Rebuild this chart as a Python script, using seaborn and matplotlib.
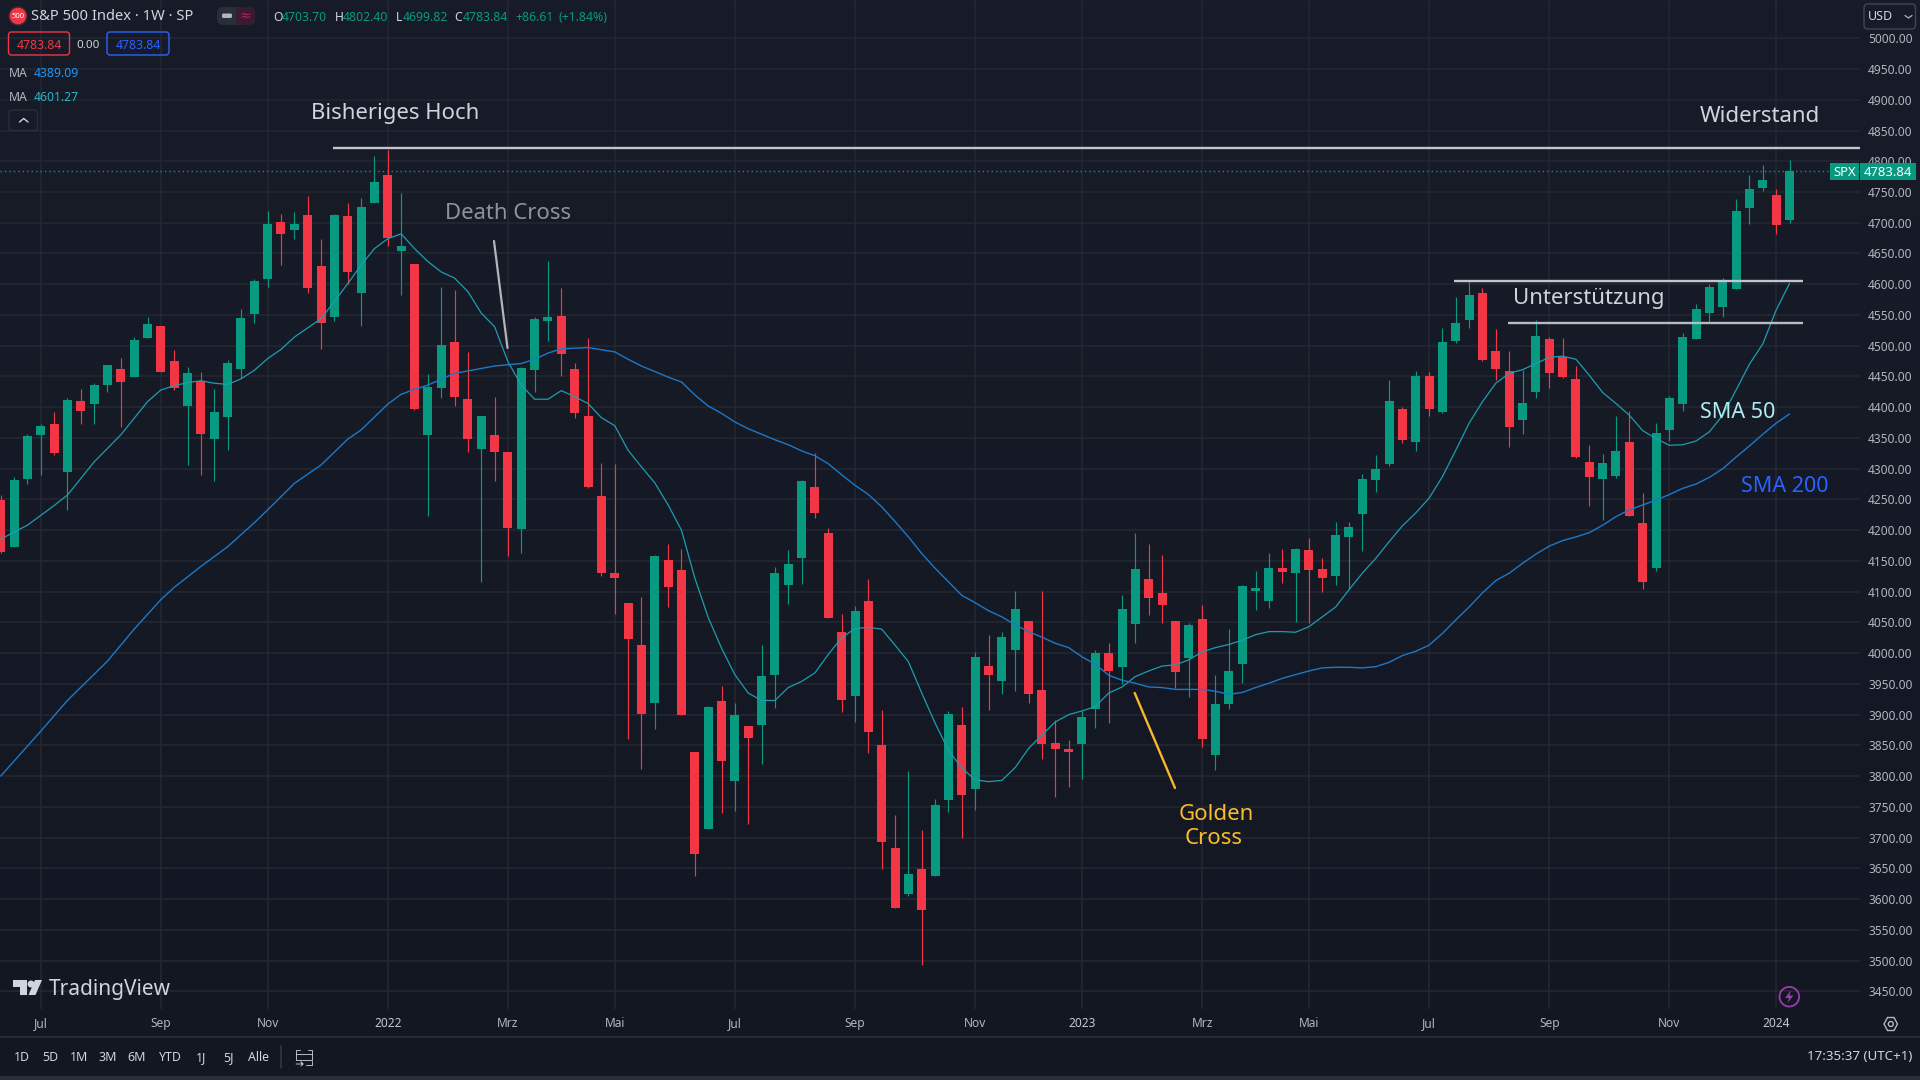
import numpy as np
import seaborn as sns
import matplotlib.pyplot as plt
from matplotlib.colors import LinearSegmentedColormap
from matplotlib.patches import Circle, FancyBboxPatch, Polygon, Rectangle

# weekly S&P 500 candles
opens = [4249, 4173, 4283, 4355, 4373, 4295, 4410, 4405, 4436, 4462, 4449, 4513, 4532, 4475, 4402,
         4443, 4348, 4384, 4462, 4552, 4609, 4701, 4688, 4713, 4630, 4547, 4711, 4586, 4732, 4778,
         4654, 4633, 4355, 4431, 4506, 4413, 4332, 4355, 4327, 4202, 4460, 4540, 4548, 4462, 4386,
         4256, 4130, 4082, 4013, 3919, 4151, 4135, 3839, 3714, 3922, 3792, 3881, 3883, 3964, 4111,
         4155, 4270, 4195, 4034, 3930, 4085, 3851, 3683, 3608, 3649, 3637, 3761, 3883, 3779, 3979,
         3955, 4005, 4052, 3940, 3854, 3844, 3852, 3909, 4000, 3977, 4047, 4120, 4098, 4052, 3992,
         4055, 3834, 3917, 3982, 4101, 4085, 4138, 4130, 4168, 4137, 4125, 4189, 4226, 4282, 4308,
         4397, 4343, 4451, 4392, 4508, 4542, 4586, 4491, 4459, 4379, 4425, 4511, 4482, 4446, 4311,
         4283, 4288, 4343, 4211, 4138, 4363, 4405, 4511, 4553, 4563, 4592, 4724, 4756, 4745, 4703.70]
highs = [4257, 4286, 4356, 4372, 4393, 4415, 4430, 4440, 4469, 4480, 4514, 4547, 4532, 4493, 4465,
         4457, 4430, 4477, 4560, 4609, 4719, 4714, 4717, 4743, 4674, 4714, 4732, 4740, 4809, 4818,
         4748, 4633, 4454, 4596, 4591, 4490, 4386, 4417, 4327, 4465, 4547, 4638, 4594, 4472, 4512,
         4309, 4308, 4082, 4091, 4159, 4177, 4169, 3839, 3914, 3946, 3919, 3881, 4013, 4140, 4167,
         4281, 4325, 4203, 4063, 4077, 4120, 3907, 3737, 3808, 3712, 3763, 3906, 3912, 4002, 4029,
         4034, 4101, 4052, 4101, 3891, 3859, 3906, 4005, 4016, 4094, 4195, 4177, 4160, 4052, 4049,
         4078, 3964, 4039, 4111, 4133, 4163, 4169, 4171, 4187, 4155, 4213, 4213, 4291, 4322, 4445,
         4400, 4459, 4457, 4529, 4579, 4607, 4594, 4527, 4491, 4460, 4542, 4514, 4512, 4467, 4338,
         4324, 4386, 4394, 4260, 4374, 4418, 4521, 4568, 4600, 4610, 4739, 4778, 4794, 4755, 4802.40]
lows = [4163, 4173, 4275, 4290, 4322, 4233, 4373, 4373, 4425, 4368, 4449, 4513, 4457, 4428, 4306,
        4290, 4280, 4330, 4447, 4537, 4596, 4631, 4674, 4586, 4495, 4540, 4600, 4532, 4732, 4662,
        4582, 4395, 4223, 4415, 4402, 4327, 4116, 4280, 4158, 4163, 4425, 4508, 4451, 4382, 4269,
        4125, 4064, 3860, 3811, 3877, 4075, 3899, 3637, 3714, 3740, 3743, 3722, 3820, 3911, 4080,
        4112, 4220, 4057, 3904, 3888, 3838, 3649, 3585, 3605, 3493, 3637, 3742, 3699, 3745, 3907,
        3933, 3938, 3919, 3828, 3766, 3782, 3795, 3878, 3886, 3950, 4016, 4062, 4049, 3943, 3929,
        3847, 3810, 3909, 3951, 4070, 4073, 4114, 4051, 4049, 4099, 4111, 4104, 4166, 4262, 4304,
        4342, 4329, 4386, 4390, 4504, 4529, 4475, 4444, 4335, 4356, 4415, 4431, 4447, 4317, 4239,
        4216, 4285, 4223, 4104, 4133, 4345, 4394, 4511, 4537, 4547, 4592, 4698, 4752, 4682, 4699.82]
closes = [4165, 4282, 4353, 4369, 4325, 4412, 4394, 4436, 4469, 4441, 4509, 4535, 4457, 4431, 4456,
          4356, 4392, 4472, 4545, 4605, 4698, 4682, 4698, 4594, 4537, 4713, 4620, 4726, 4766, 4675,
          4662, 4397, 4433, 4501, 4417, 4348, 4386, 4327, 4203, 4464, 4543, 4547, 4486, 4391, 4270,
          4130, 4122, 4023, 3901, 4158, 4107, 3899, 3673, 3912, 3824, 3899, 3862, 3963, 4130, 4145,
          4280, 4228, 4057, 3924, 4068, 3872, 3693, 3585, 3641, 3582, 3753, 3901, 3769, 3994, 3964,
          4026, 4072, 3933, 3852, 3844, 3839, 3896, 4000, 3971, 4072, 4137, 4090, 4078, 3969, 4046,
          3860, 3917, 3971, 4109, 4106, 4138, 4132, 4169, 4135, 4122, 4192, 4205, 4283, 4299, 4410,
          4347, 4451, 4397, 4506, 4537, 4582, 4477, 4462, 4368, 4407, 4516, 4456, 4449, 4319, 4286,
          4309, 4329, 4223, 4116, 4358, 4415, 4514, 4560, 4595, 4605, 4719, 4755, 4769, 4696, 4783.84]

# fast moving average, one value per candle
sma_fast = [4185, 4197, 4208, 4224, 4240, 4257, 4284, 4311, 4333, 4355, 4382, 4409, 4428, 4435, 4440,
            4443, 4439, 4437, 4446, 4460, 4479, 4494, 4514, 4529, 4544, 4572, 4601, 4631, 4658, 4674,
            4682, 4658, 4637, 4620, 4610, 4588, 4553, 4531, 4474, 4436, 4413, 4413, 4427, 4417, 4406,
            4383, 4370, 4330, 4303, 4277, 4241, 4200, 4122, 4058, 4008, 3965, 3935, 3923, 3923, 3944,
            3954, 3968, 3998, 4025, 4040, 4042, 4039, 4013, 3986, 3935, 3886, 3842, 3813, 3794, 3791,
            3793, 3814, 3845, 3867, 3888, 3900, 3906, 3913, 3935, 3945, 3962, 3971, 3979, 3981, 3989,
            4002, 4009, 4014, 4021, 4030, 4035, 4035, 4034, 4043, 4059, 4075, 4103, 4130, 4154, 4181,
            4207, 4228, 4252, 4287, 4330, 4374, 4409, 4439, 4455, 4461, 4471, 4481, 4483, 4478, 4452,
            4424, 4406, 4387, 4362, 4349, 4338, 4339, 4345, 4360, 4387, 4428, 4470, 4503, 4558, 4601.27]
# slow moving average, read at the candles listed
sma_slow_idx = [0, 3, 5, 8, 10, 12, 13, 15, 17, 19, 20, 22, 24, 26, 27, 29, 30, 31, 32, 34, 35, 37, 39,
                40, 41, 42, 44, 46, 47, 48, 49, 50, 51, 52, 53, 54, 55, 56, 57, 58, 59, 60, 61, 62, 63,
                64, 65, 66, 67, 68, 69, 70, 71, 72, 73, 74, 75, 76, 77, 78, 79, 80, 81, 82, 83, 84, 85,
                86, 87, 88, 89, 90, 91, 92, 93, 94, 95, 96, 97, 98, 99, 100, 101, 102, 103, 104, 105,
                106, 107, 108, 109, 110, 111, 112, 113, 114, 115, 116, 117, 118, 119, 120, 121, 122,
                123, 124, 125, 126, 127, 128, 129, 130, 131, 132, 133, 134]
sma_slow = [3800, 3873, 3923, 3987, 4039, 4087, 4107, 4141, 4173, 4212, 4233, 4276, 4306, 4348, 4363,
            4405, 4421, 4429, 4436, 4455, 4459, 4467, 4471, 4478, 4488, 4495, 4497, 4490, 4478, 4467,
            4458, 4449, 4441, 4420, 4402, 4390, 4376, 4365, 4356, 4347, 4339, 4329, 4321, 4308, 4290,
            4273, 4258, 4238, 4214, 4189, 4162, 4138, 4116, 4094, 4082, 4069, 4059, 4046, 4035, 4026,
            4016, 4009, 3994, 3982, 3964, 3956, 3951, 3945, 3944, 3941, 3941, 3941, 3938, 3933, 3936,
            3944, 3951, 3959, 3965, 3971, 3976, 3977, 3977, 3976, 3978, 3985, 3996, 4003, 4013, 4032,
            4054, 4075, 4098, 4118, 4130, 4146, 4161, 4174, 4183, 4189, 4196, 4208, 4222, 4233, 4241,
            4249, 4258, 4268, 4275, 4286, 4300, 4319, 4337, 4356, 4374, 4389.09]

month_idx = [3, 12, 20, 29, 38, 46, 55, 64, 73, 81, 90, 98, 107, 116, 125, 133]
month_labels = ["Jul", "Sep", "Nov", "2022", "Mrz", "Mai", "Jul", "Sep", "Nov", "2023", "Mrz", "Mai",
                "Jul", "Sep", "Nov", "2024"]
price_ticks = list(range(3450, 5001, 50))
last_price = 4783.84
resistance = 4821.6
support_high = 4606
support_low = 4537
range_buttons = ["1D", "5D", "1M", "3M", "6M", "YTD", "1J", "5J", "Alle"]

UP = "#089981"
DOWN = "#f23645"
GRID = "#242833"
SOFT = "#d1d4dc"
AXIS_TXT = "#b2b5be"

sns.set_theme(style="dark", rc={"axes.grid": False})
plt.rcParams["font.family"] = ["Noto Sans", "DejaVu Sans"]

fig = plt.figure(figsize=(19.2, 10.8), dpi=100, facecolor="#131722")

# backdrop gets slightly lighter towards the top
bg = fig.add_axes([0, 0, 1, 1], zorder=0)
cmap = LinearSegmentedColormap.from_list("tv", ["#181c28", "#131722"])
bg.imshow(np.linspace(0, 1, 256).reshape(-1, 1), aspect="auto", cmap=cmap, extent=(0, 1920, 1080, 0))
bg.axis("off")

ax = fig.add_axes([0, 71 / 1080, 1860 / 1920, 1009 / 1080], zorder=1)
ax.patch.set_alpha(0)
ax.set_xlim(-0.049, 139.28)
ax.set_ylim(3421.2, 5062.3)

opens = np.array(opens)
closes = np.array(closes)
idx = np.arange(len(opens))
colors = [UP if c >= o else DOWN for o, c in zip(opens, closes)]

ax.set_yticks(price_ticks)
ax.set_yticklabels([f"{p:.2f}" for p in price_ticks])
ax.set_xticks(month_idx)
ax.set_xticklabels(month_labels)
ax.yaxis.tick_right()
ax.tick_params(axis="y", length=0, pad=5.8, labelsize=8.6, labelcolor=AXIS_TXT)
ax.tick_params(axis="x", length=0, pad=5.5, labelsize=8.6, labelcolor=AXIS_TXT)
for lab in ax.get_xticklabels():
    if lab.get_text().isdigit():
        lab.set_fontweight("bold")
        lab.set_color("#c4c7cf")
ax.grid(True, color=GRID, lw=1.1, zorder=0)
ax.set_axisbelow(True)
sns.despine(ax=ax, left=True, bottom=True, right=True, top=True)

ax.axhline(last_price, color=UP, lw=1, ls=(0, (1, 2.2)), zorder=1)

ax.vlines(idx, lows, highs, colors=colors, lw=0.85, zorder=2)
ax.bar(idx, np.abs(closes - opens), bottom=np.minimum(opens, closes), width=0.674, color=colors, lw=0, zorder=3)

sns.lineplot(x=idx, y=sma_fast, ax=ax, color="#1f9cae", lw=0.9, zorder=4, errorbar=None)
sns.lineplot(x=sma_slow_idx, y=sma_slow, ax=ax, color="#1e78c8", lw=1.0, zorder=4, errorbar=None)
ax.set_xlabel("")
ax.set_ylabel("")

ax.hlines(resistance, 24.9, 139.28, color="#c3c5cc", lw=1.7, zorder=5)
ax.hlines(support_high, 108.9, 135.0, color="#c3c5cc", lw=1.7, zorder=5)
ax.hlines(support_low, 112.9, 135.0, color="#b9bbc3", lw=1.7, zorder=5)

# everything around the plot, in screen pixels
ui = fig.add_axes([0, 0, 1, 1], zorder=2)
ui.set_xlim(0, 1920)
ui.set_ylim(1080, 0)
ui.axis("off")


def txt(x, y, s, color=SOFT, size=8.8, ha="left", **kw):
    ui.text(x, y, s, color=color, fontsize=size, ha=ha, va="center", **kw)


def box(x0, y0, x1, y1, edge="none", face="none", lw=1.0, rad=3):
    ui.add_patch(FancyBboxPatch((x0, y0), x1 - x0, y1 - y0, boxstyle=f"round,pad=0,rounding_size={rad}",
                                ec=edge, fc=face, lw=lw))


# chart annotations
txt(311, 113, "Bisheriges Hoch", size=15.9)
txt(445, 213.5, "Death Cross", color="#8f929b", size=15.9)
txt(1700, 116.5, "Widerstand", size=16)
txt(1513, 298.5, "Unterstützung", size=16)
txt(1700, 412, "SMA 50", color="#b2ebf2", size=15.5)
txt(1741, 486, "SMA 200", color="#2962ff", size=15.5)
txt(1216, 814, "Golden", color="#f9bc2c", size=16, ha="center")
txt(1214, 838, "Cross", color="#f9bc2c", size=16, ha="center")
ui.plot([494, 507.5], [241, 348], color="#b2b5be", lw=1.6)
ui.plot([1134.7, 1175], [693, 788], color="#f5b82e", lw=1.7)

# header
ui.add_patch(Circle((18, 16), 9, fc=DOWN, ec="#3b2a35", lw=1))
txt(18, 16.5, "500", color="white", size=5.5, ha="center", fontweight="bold")
txt(31, 17, "S&P 500 Index · 1W · SP", size=10.6)
box(217, 7, 255, 25, face="#2a2e39", rad=6)
box(236, 7, 255, 25, face="#3a1a30", rad=6)
box(222, 13.5, 232, 18, face="#b2b5be", rad=1.5)
txt(245, 16, "≈", color="#c2185b", size=10, ha="center")
for x, s in [(273, "O"), (334.6, "H"), (395.6, "L"), (454.5, "C")]:
    txt(x, 17.5, s)
for x, s in [(282, "4703.70"), (343, "4802.40"), (403, "4699.82"), (463, "4783.84"),
             (515.6, "+86.61"), (558.5, "(+1.84%)")]:
    txt(x, 17.5, s, color=UP)

box(8.5, 32, 69.5, 55, edge=DOWN, lw=1.0)
txt(39, 45.5, "4783.84", color=DOWN, ha="center")
txt(88, 45, "0.00", size=8.3, ha="center")
box(107, 32, 169, 55, edge="#2962ff", lw=1.0)
txt(138, 45.5, "4783.84", color="#2962ff", ha="center")
txt(9, 73.5, "MA", color=AXIS_TXT)
txt(34, 73.5, "4389.09", color="#2196f3")
txt(9, 97.5, "MA", color=AXIS_TXT)
txt(34, 97.5, "4601.27", color="#26b6c6")
box(9, 110, 37.5, 130.5, edge="#2a2e39", lw=1.0)
ui.plot([19.5, 23.7, 28], [122, 118.5, 122], color=SOFT, lw=1)

box(1864, 4, 1915.5, 29, edge="#434651", lw=1.0, rad=4)
txt(1868, 17, "USD", size=9)
ui.plot([1905, 1908.5, 1912], [15.5, 18, 15.5], color=AXIS_TXT, lw=0.9)

# last price tag
ui.add_patch(Rectangle((1830, 163), 29, 17, fc=UP, ec="none"))
ui.add_patch(Rectangle((1860, 163), 56, 17, fc=UP, ec="none"))
txt(1844.5, 172, "SPX", color="white", size=9.4, ha="center")
txt(1888, 172, "4783.84", color="white", size=9.4, ha="center", fontweight="medium")

# watermark
ui.add_patch(Polygon([(12.5, 980), (27, 980), (27, 995), (20, 995), (20, 987), (12.5, 987)], fc=SOFT, ec="none"))
ui.add_patch(Circle((31, 984), 3.5, fc=SOFT, ec="none"))
ui.add_patch(Polygon([(35, 980), (42, 980), (35.5, 995), (28.5, 995)], fc=SOFT, ec="none"))
txt(49, 989.5, "TradingView", size=15, fontweight="medium")

# lightning marker and settings
ui.add_patch(Circle((1789.3, 996.7), 9.8, fc="none", ec="#9c3bb0", lw=1.3))
ui.add_patch(Polygon([(1791, 990), (1785, 998), (1789, 998), (1787.5, 1003), (1793.5, 995.5), (1789.5, 995.5)],
                     fc="#9c3bb0", ec="none"))
ui.add_patch(Polygon([(1884, 1024), (1887.5, 1017.5), (1894, 1017.5), (1897.5, 1024), (1894, 1030.5), (1887.5, 1030.5)],
                     fc="none", ec=AXIS_TXT, lw=1))
ui.add_patch(Circle((1890.8, 1024), 2.5, fc="none", ec=AXIS_TXT, lw=1))

# bottom toolbar
ui.plot([0, 1920], [1037, 1037], color="#2a2e39", lw=1.3)
ui.add_patch(Rectangle((0, 1076), 1920, 4, fc="#2a2e39", ec="none"))
for x, s in zip([22, 50, 79, 108, 137, 170, 201, 228, 258], range_buttons):
    txt(x, 1057.5, s, ha="center", size=8.9)
ui.plot([281, 281], [1046, 1068], color="#363a45", lw=1.1)
ui.plot([300, 296, 296, 312, 312, 308], [1050, 1050, 1060, 1060, 1050, 1050], color=SOFT, lw=0.6)
ui.plot([296, 312], [1054, 1054], color=SOFT, lw=0.6)
ui.plot([296, 303, 301, 303, 301], [1064, 1064, 1062, 1064, 1066], color=SOFT, lw=0.6)
ui.plot([306, 312, 312], [1065, 1065, 1061], color=SOFT, lw=0.6)
txt(1912, 1057, "17:35:37 (UTC+1)", ha="right", size=9.6)

fig.savefig("out.png", dpi=100, facecolor=fig.get_facecolor())
